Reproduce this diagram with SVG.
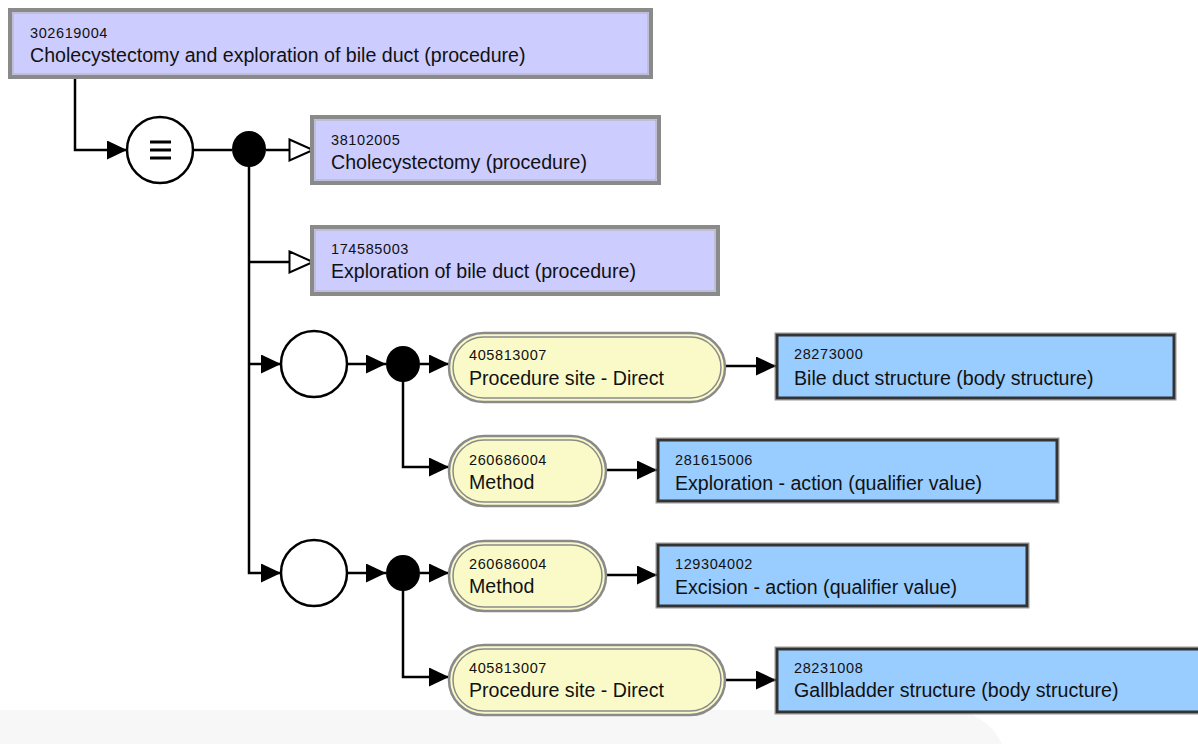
<svg xmlns="http://www.w3.org/2000/svg" width="1198" height="744" viewBox="0 0 1198 744">
<style>
.num{font-family:"Liberation Sans",Arial,sans-serif;font-size:14.5px;letter-spacing:0.6px;fill:#111}
.lbl{font-family:"Liberation Sans",Arial,sans-serif;font-size:19.6px;fill:#111}
.def{fill:#ccccff;stroke:#8a8a8a;stroke-width:4}
.defin{fill:none;stroke:#b0b0b0;stroke-width:1}
.con{fill:#99ccff;stroke:#333;stroke-width:3}
.conout{fill:none;stroke:#999;stroke-width:1}
.pillo{fill:#fafac8;stroke:#8a8a8a;stroke-width:2.5}
.pilli{fill:none;stroke:#8a8a8a;stroke-width:1.5}
.ln{fill:none;stroke:#000;stroke-width:2.5}
.fa{marker-end:url(#fa)}
.oa{marker-end:url(#oa)}
</style>
<defs>
<marker id="fa" markerUnits="userSpaceOnUse" markerWidth="21" markerHeight="19" refX="20" refY="9.5" orient="auto" viewBox="0 0 21 19">
<path d="M0,0 L20,9.5 L0,19 z" fill="#000"/>
</marker>
<marker id="oa" markerUnits="userSpaceOnUse" markerWidth="27" markerHeight="24" refX="25" refY="12" orient="auto" viewBox="0 0 27 24">
<path d="M1.5,1.5 L25,12 L1.5,22.5 z" fill="#fff" stroke="#000" stroke-width="2"/>
</marker>
</defs>
<path d="M0,710 H958 Q990,718 1002,744 H0 z" fill="#f7f7f7"/>
<g id="connectors">
<path class="ln fa" d="M75,78 V150 H127"/>
<path class="ln" d="M193,150 H232"/>
<path class="ln oa" d="M266,150 H313"/>
<path class="ln fa" d="M249,166 V573 H281"/>
<path class="ln oa" d="M249,262 H313"/>
<path class="ln fa" d="M249,364 H281"/>
<path class="ln fa" d="M347,364 H386"/>
<path class="ln fa" d="M420,364 H449"/>
<path class="ln fa" d="M403,380 V467 H449"/>
<path class="ln fa" d="M725,366 H776"/>
<path class="ln fa" d="M606,470 H657"/>
<path class="ln fa" d="M347,573 H386"/>
<path class="ln fa" d="M420,573 H449"/>
<path class="ln fa" d="M403,589 V677 H449"/>
<path class="ln fa" d="M606,575 H657"/>
<path class="ln fa" d="M725,680 H776"/>
</g>
<g id="n302619004">
<rect class="def" x="10" y="10" width="641" height="67"/>
<rect class="defin" x="13" y="13" width="635" height="61"/>
<text class="num" x="30" y="38">302619004</text>
<text class="lbl" x="30" y="62">Cholecystectomy and exploration of bile duct (procedure)</text>
</g>
<g id="equiv">
<circle cx="160" cy="150" r="33" fill="#fff" stroke="#000" stroke-width="2.5"/>
<path d="M150,142 H171 M150,150 H171 M150,158 H171" stroke="#000" stroke-width="3"/>
</g>
<g id="conj1"><ellipse cx="249" cy="149" rx="17" ry="18" fill="#000"/></g>
<g id="n38102005">
<rect class="def" x="312" y="117" width="347" height="66"/>
<rect class="defin" x="315" y="120" width="341" height="60"/>
<text class="num" x="331" y="145">38102005</text>
<text class="lbl" x="331" y="169">Cholecystectomy (procedure)</text>
</g>
<g id="n174585003">
<rect class="def" x="312" y="227" width="406" height="67"/>
<rect class="defin" x="315" y="230" width="400" height="61"/>
<text class="num" x="331" y="254">174585003</text>
<text class="lbl" x="331" y="278">Exploration of bile duct (procedure)</text>
</g>
<g id="group1">
<circle cx="314" cy="364" r="33" fill="#fff" stroke="#000" stroke-width="2.5"/>
</g>
<g id="conj2"><ellipse cx="403" cy="364" rx="17" ry="18" fill="#000"/></g>
<g id="attr1">
<rect class="pillo" x="449" y="333" width="276" height="69" rx="34.5"/>
<rect class="pilli" x="453" y="337" width="268" height="61" rx="30.5"/>
<text class="num" x="469" y="360">405813007</text>
<text class="lbl" x="469" y="385">Procedure site - Direct</text>
</g>
<g id="n28273000">
<rect class="conout" x="775" y="333" width="401" height="67"/>
<rect class="con" x="777" y="335" width="397" height="63"/>
<text class="num" x="794" y="359">28273000</text>
<text class="lbl" x="794" y="385">Bile duct structure (body structure)</text>
</g>
<g id="attr2">
<rect class="pillo" x="449" y="436" width="157" height="70" rx="35"/>
<rect class="pilli" x="453" y="440" width="149" height="62" rx="31"/>
<text class="num" x="469" y="465">260686004</text>
<text class="lbl" x="469" y="489">Method</text>
</g>
<g id="n281615006">
<rect class="conout" x="656" y="438" width="403" height="65"/>
<rect class="con" x="658" y="440" width="399" height="61"/>
<text class="num" x="675" y="465">281615006</text>
<text class="lbl" x="675" y="490">Exploration - action (qualifier value)</text>
</g>
<g id="group2">
<circle cx="314" cy="573" r="33" fill="#fff" stroke="#000" stroke-width="2.5"/>
</g>
<g id="conj3"><ellipse cx="403" cy="573" rx="17" ry="18" fill="#000"/></g>
<g id="attr3">
<rect class="pillo" x="449" y="541" width="157" height="70" rx="35"/>
<rect class="pilli" x="453" y="545" width="149" height="62" rx="31"/>
<text class="num" x="469" y="569">260686004</text>
<text class="lbl" x="469" y="593">Method</text>
</g>
<g id="n129304002">
<rect class="conout" x="656" y="543" width="373" height="65"/>
<rect class="con" x="658" y="545" width="369" height="61"/>
<text class="num" x="675" y="569">129304002</text>
<text class="lbl" x="675" y="594">Excision - action (qualifier value)</text>
</g>
<g id="attr4">
<rect class="pillo" x="449" y="645" width="276" height="70" rx="35"/>
<rect class="pilli" x="453" y="649" width="268" height="62" rx="31"/>
<text class="num" x="469" y="673">405813007</text>
<text class="lbl" x="469" y="697">Procedure site - Direct</text>
</g>
<g id="n28231008">
<rect class="conout" x="775" y="647" width="440" height="67"/>
<rect class="con" x="777" y="649" width="436" height="63"/>
<text class="num" x="794" y="673">28231008</text>
<text class="lbl" x="794" y="697">Gallbladder structure (body structure)</text>
</g>
</svg>
